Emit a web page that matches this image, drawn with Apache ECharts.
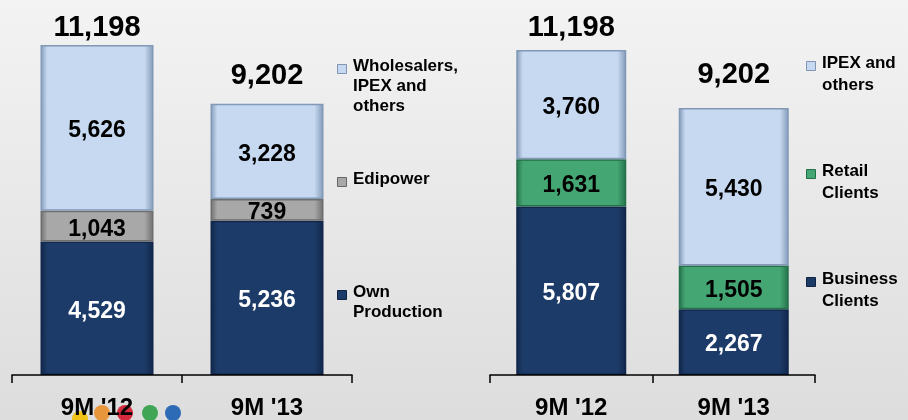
<!DOCTYPE html>
<html>
<head>
<meta charset="utf-8">
<script src="https://cdn.jsdelivr.net/npm/echarts@6/dist/echarts.min.js"></script>
<style>
html,body{margin:0;padding:0;}
#c{width:908px;height:420px;}
</style>
</head>
<body>
<div id="c"></div>
<script>
// ---- data ----
const categories = ["9M '12", "9M '13"];
// left chart (sources)
const ownProduction = [4529, 5236];
const edipower = [1043, 739];
const wholesalers = [5626, 3228];
const totalsLeft = [11198, 9202];
// right chart (uses)
const businessClients = [5807, 2267];
const retailClients = [1631, 1505];
const ipexOthers = [3760, 5430];
const totalsRight = [11198, 9202];
// legend texts
const legendLeft = [["Wholesalers,", "IPEX and", "others"], ["Edipower"], ["Own", "Production"]];
const legendRight = [["IPEX and", "others"], ["Retail", "Clients"], ["Business", "Clients"]];

const FONT = 'Liberation Sans, Arial, sans-serif';
const C_LIGHT = '#c6d9f0', C_GRAY = '#a8a8a8', C_NAVY = '#1d3b68', C_GREEN = '#44a673';
const fmt = v => Number(v).toLocaleString('en-US');

function vgrad(c1, c2) {
  return { type: 'linear', x: 0, y: 0, x2: 1, y2: 0,
    colorStops: [{ offset: 0, color: c2 }, { offset: 0.06, color: c1 }, { offset: 0.92, color: c1 }, { offset: 1, color: c2 }] };
}

function seg(name, data, color, edge, txtColor, xi) {
  return {
    name, type: 'bar', stack: 's' + xi, xAxisIndex: xi, yAxisIndex: xi,
    data, barWidth: xi === 0 ? 113 : 110,
    itemStyle: { color: vgrad(color, edge), borderColor: edge, borderWidth: 1.5 },
    label: { show: true, position: 'inside', offset: [0, 3], formatter: p => fmt(p.value),
      color: txtColor, fontFamily: FONT, fontWeight: 'bold', fontSize: 23 }
  };
}

function totals(data, xi, dists) {
  return {
    type: 'scatter', xAxisIndex: xi, yAxisIndex: xi, symbolSize: 1,
    itemStyle: { color: 'rgba(0,0,0,0)', opacity: 1 }, z: 10,
    data: data.map((v, i) => ({ value: v, label: { distance: dists[i] } })),
    label: { show: true, position: 'top', formatter: p => fmt(p.value),
      color: '#000', fontFamily: FONT, fontWeight: 'bold', fontSize: 29 }
  };
}

function xAx(gi) {
  return {
    type: 'category', gridIndex: gi, data: categories, zlevel: 1,
    axisLine: { lineStyle: { color: '#000', width: 1.5 } },
    axisTick: { show: true, length: 8, lineStyle: { color: '#000', width: 1.5 } },
    axisLabel: { color: '#000', fontFamily: FONT, fontWeight: 'bold', fontSize: 24, margin: 21 }
  };
}
function yAx(gi, max) {
  return { type: 'value', gridIndex: gi, min: 0, max, show: false, splitLine: { show: false } };
}

// legend graphics
function legendGraphics(groups, x, tops, lh, colors, edges) {
  const out = [];
  groups.forEach((lines, i) => {
    out.push({ type: 'rect', left: x - 16, top: tops[i] - 4, shape: { width: 9, height: 9 },
      style: { fill: colors[i], stroke: edges[i], lineWidth: 1 } });
    lines.forEach((t, j) => {
      out.push({ type: 'text', left: x, top: tops[i] + j * lh - 10,
        style: { text: t, fill: '#000', font: 'bold 17px ' + FONT } });
    });
  });
  return out;
}

const dots = [
  ['#f2c000', 80, 419], ['#e88e2a', 102, 413], ['#d4172b', 125, 413], ['#2f9e46', 150, 413], ['#1b5eb2', 173, 413]
].map(d => ({ type: 'circle', shape: { cx: d[1], cy: d[2], r: 8 },
  style: { fill: d[0], opacity: 0.9 } }));

const chart = echarts.init(document.getElementById('c'));
chart.setOption({
  animation: false,
  backgroundColor: { type: 'linear', x: 0, y: 0, x2: 0, y2: 1,
    colorStops: [{ offset: 0, color: '#f3f3f3' }, { offset: 1, color: '#dddddd' }] },
  grid: [
    { left: 12, width: 340, top: 45, height: 330 },
    { left: 490, width: 325, top: 50, height: 325 }
  ],
  xAxis: [xAx(0), xAx(1)],
  yAxis: [yAx(0, totalsLeft[0]), yAx(1, totalsRight[0])],
  graphic: [].concat(
    legendGraphics(legendLeft, 353, [68, 181, 294], 20, [C_LIGHT, C_GRAY, C_NAVY], ['#7f95b3', '#666', '#0e2242']),
    legendGraphics(legendRight, 822, [65, 173, 281], 22, [C_LIGHT, C_GREEN, C_NAVY], ['#7f95b3', '#22704a', '#0e2242']),
    dots
  ),
  series: [
    seg('Own Production', ownProduction, C_NAVY, '#10264a', '#fff', 0),
    seg('Edipower', edipower, C_GRAY, '#6e6e6e', '#000', 0),
    seg('Wholesalers, IPEX and others', wholesalers, C_LIGHT, '#8198b6', '#000', 0),
    totals(totalsLeft, 0, [2, 13]),
    seg('Business Clients', businessClients, C_NAVY, '#10264a', '#fff', 1),
    seg('Retail Clients', retailClients, C_GREEN, '#24704a', '#000', 1),
    seg('IPEX and others', ipexOthers, C_LIGHT, '#8198b6', '#000', 1),
    totals(totalsRight, 1, [7, 18])
  ]
});
</script>
</body>
</html>
